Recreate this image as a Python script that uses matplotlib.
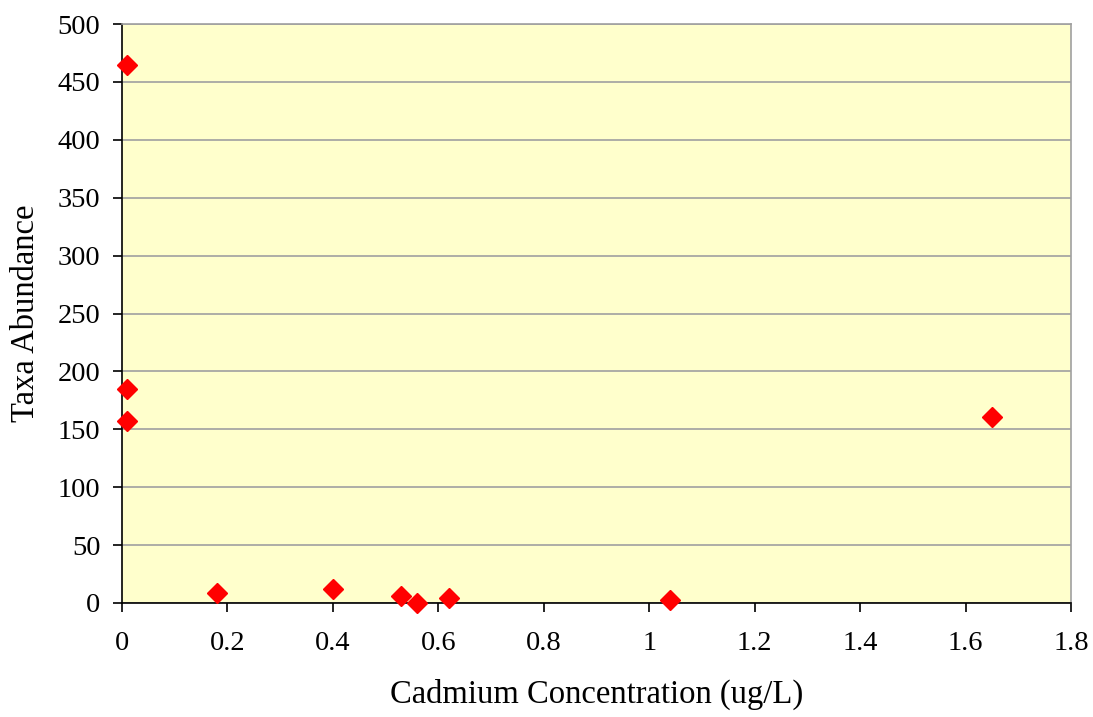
import matplotlib.pyplot as plt

cadmium = [0.01, 0.01, 0.01, 0.18, 0.40, 0.53, 0.56, 0.62, 1.04, 1.65]
abundance = [465, 185, 157, 9, 12, 6, 0, 4, 3, 161]

plt.rcParams['font.family'] = ['Liberation Serif', 'DejaVu Serif']

fig = plt.figure(figsize=(10.93, 7.17), dpi=100)
ax = fig.add_axes([0.1116, 0.159, 0.8683, 0.8075])
ax.set_facecolor('#FFFFCC')

ax.plot(cadmium, abundance, linestyle='none', marker='D', markersize=10.5,
        color='#FF0000', zorder=3, clip_on=False)

ax.set_xlim(0, 1.8)
ax.set_ylim(0, 500)
ax.set_xticks([0, 0.2, 0.4, 0.6, 0.8, 1, 1.2, 1.4, 1.6, 1.8])
ax.set_xticklabels(['0', '0.2', '0.4', '0.6', '0.8', '1', '1.2', '1.4', '1.6', '1.8'])
ax.set_yticks(range(0, 501, 50))
ax.yaxis.grid(True, color='#A0A0A0', linewidth=1.2)
ax.set_axisbelow(True)

for side in ['top', 'right']:
    ax.spines[side].set_color('#A0A0A0')
    ax.spines[side].set_linewidth(1.2)
for side in ['left', 'bottom']:
    ax.spines[side].set_color('black')
    ax.spines[side].set_linewidth(1.2)

ax.tick_params(axis='both', direction='out', length=6.5, width=1.2, labelsize=20.5)
ax.tick_params(axis='x', pad=14)
ax.tick_params(axis='y', pad=9)
ax.set_xlabel('Cadmium Concentration (ug/L)', fontsize=23.5, labelpad=16)
ax.set_ylabel('Taxa Abundance', fontsize=23.5, labelpad=12)

plt.savefig('out.png', dpi=100)
